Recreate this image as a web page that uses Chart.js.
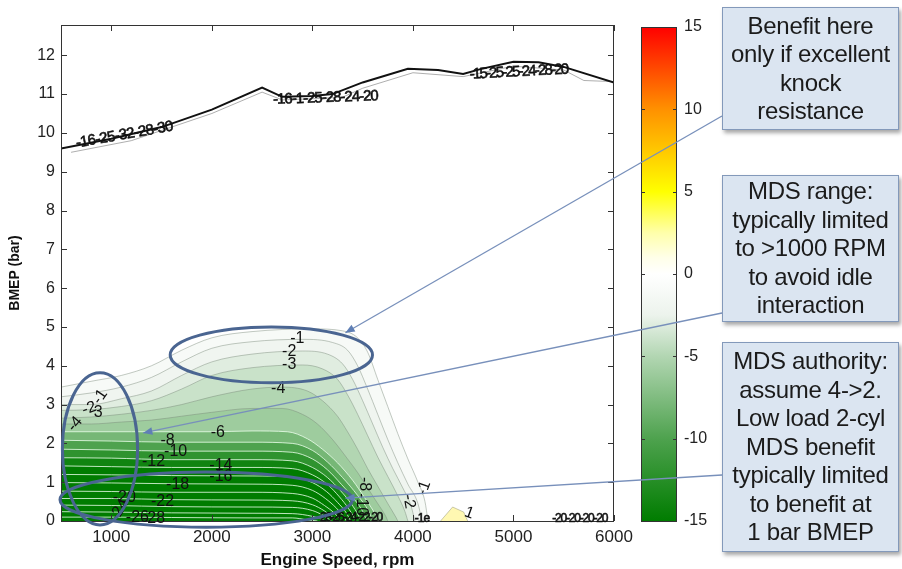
<!DOCTYPE html>
<html>
<head>
<meta charset="utf-8">
<script src="https://cdn.jsdelivr.net/npm/chart.js@4"></script>
<style>
  html, body { margin: 0; padding: 0; background: #fff; overflow: hidden; }
  #wrap { position: relative; width: 902px; height: 569px; font-family: 'Liberation Sans', Arial, sans-serif; }
  #cb { position: absolute; left: 620px; top: 0; z-index: 0; }
  #main { position: absolute; left: 0; top: 0; z-index: 1; }
  .note {
    position: absolute; left: 722px; width: 177px; box-sizing: border-box;
    background: #dbe5f1; border: 1px solid #8399ba;
    box-shadow: 2px 3px 4px rgba(0,0,0,0.35);
    color: #1b1b1b; font-size: 24px; line-height: 28.5px; letter-spacing: -0.3px;
    text-align: center; z-index: 2;
    display: flex; flex-direction: column; justify-content: center;
  }
</style>
</head>
<body>
<div id="wrap">
  <canvas id="cb" width="100" height="569"></canvas>
  <canvas id="main" width="902" height="569"></canvas>
  <div class="note" style="top:7px;height:123px">Benefit here<br>only if excellent<br>knock<br>resistance</div>
  <div class="note" style="top:175px;height:147px">MDS range:<br>typically limited<br>to &gt;1000 RPM<br>to avoid idle<br>interaction</div>
  <div class="note" style="top:342px;height:210px">MDS authority:<br>assume 4-&gt;2.<br>Low load 2-cyl<br>MDS benefit<br>typically limited<br>to benefit at<br>1 bar BMEP</div>
</div>
<script>
const FONT = "'Liberation Sans', Arial, sans-serif";

// axis ticks
const xTicks = [1000, 2000, 3000, 4000, 5000, 6000];
const yTicks = [0, 1, 2, 3, 4, 5, 6, 7, 8, 9, 10, 11, 12];
const cbTicks = [-15, -10, -5, 0, 5, 10, 15];

// contour levels (benefit, %) and their outlines [rpm, bar]
const levels = [0, -1, -2, -3, -4, -5, -6, -8, -10, -12, -14, -16, -18, -20, -22, -24, -26, -28];

const c00 = [[500,3.45],[800,3.6],[1100,3.75],[1400,4.0],[1700,4.4],[2000,4.72],[2400,4.88],[3000,4.95],[3300,4.9],[3450,4.72],[3550,4.35],[3650,3.65],[3750,2.95],[3850,2.25],[3950,1.6],[4050,1.0],[4120,0.5],[4150,0]];
const c01 = [[500,3.2],[800,3.3],[1100,3.45],[1400,3.7],[1700,4.1],[2000,4.45],[2400,4.62],[2900,4.68],[3200,4.6],[3350,4.4],[3450,4.0],[3550,3.4],[3650,2.75],[3750,2.1],[3850,1.5],[3950,0.95],[4050,0.45],[4090,0]];
const c02 = [[500,3.0],[800,3.0],[1100,3.15],[1400,3.35],[1700,3.75],[2000,4.1],[2400,4.3],[2900,4.38],[3150,4.3],[3300,4.05],[3400,3.65],[3500,3.1],[3600,2.5],[3700,1.9],[3800,1.35],[3900,0.85],[3980,0.4],[4020,0]];
const c03 = [[500,2.85],[800,2.87],[1100,2.95],[1400,3.1],[1700,3.4],[2000,3.75],[2400,3.95],[2900,4.02],[3100,3.92],[3250,3.65],[3350,3.25],[3450,2.75],[3550,2.2],[3650,1.65],[3750,1.15],[3850,0.65],[3920,0.25],[3950,0]];
const c04 = [[500,2.65],[800,2.68],[1100,2.75],[1400,2.85],[1700,3.0],[2000,3.2],[2400,3.4],[2700,3.45],[2950,3.35],[3100,3.1],[3250,2.7],[3350,2.3],[3450,1.85],[3550,1.35],[3650,0.9],[3750,0.45],[3830,0.1],[3850,0]];
const c05 = [[500,2.5],[800,2.5],[1100,2.55],[1400,2.6],[1700,2.7],[2000,2.8],[2400,2.9],[2700,2.9],[2900,2.75],[3050,2.5],[3200,2.1],[3350,1.6],[3450,1.25],[3550,0.85],[3650,0.45],[3730,0.12],[3750,0]];
const c06 = [[500,2.3],[800,2.3],[1200,2.3],[1600,2.3],[2000,2.3],[2400,2.32],[2750,2.3],[2950,2.12],[3100,1.85],[3250,1.5],[3400,1.05],[3520,0.6],[3620,0.2],[3660,0]];
const c08 = [[500,2.08],[1000,2.06],[1600,2.03],[2400,2.03],[2800,2.0],[3000,1.82],[3150,1.52],[3300,1.12],[3450,0.66],[3560,0.25],[3600,0]];
const c10 = [[500,1.85],[1000,1.83],[1600,1.8],[2400,1.8],[2800,1.77],[3000,1.6],[3150,1.32],[3290,0.94],[3420,0.55],[3510,0.2],[3540,0]];
const c12 = [[500,1.63],[1000,1.62],[1600,1.58],[2400,1.58],[2800,1.55],[3000,1.38],[3150,1.12],[3280,0.78],[3390,0.43],[3460,0.13],[3480,0]];
const c14 = [[500,1.42],[1000,1.4],[1600,1.38],[2400,1.38],[2800,1.35],[3000,1.19],[3150,0.94],[3270,0.62],[3360,0.32],[3420,0.06],[3430,0]];
const c16 = [[500,1.2],[1000,1.19],[1600,1.17],[2400,1.16],[2800,1.13],[3000,0.99],[3140,0.76],[3250,0.48],[3340,0.2],[3380,0]];
const c18 = [[500,0.99],[1000,0.98],[1600,0.96],[2400,0.95],[2800,0.92],[3000,0.79],[3130,0.58],[3240,0.33],[3310,0.12],[3340,0]];
const c20 = [[500,0.77],[1000,0.76],[1600,0.74],[2400,0.74],[2800,0.71],[3000,0.59],[3120,0.4],[3220,0.2],[3290,0]];
const c22 = [[500,0.58],[1000,0.58],[1600,0.55],[2400,0.54],[2800,0.52],[3000,0.42],[3120,0.26],[3210,0.08],[3240,0]];
const c24 = [[500,0.41],[1000,0.4],[1600,0.37],[2400,0.36],[2800,0.35],[3000,0.27],[3110,0.14],[3190,0]];
const c26 = [[500,0.24],[1000,0.23],[1600,0.21],[2400,0.2],[2800,0.19],[3000,0.12],[3100,0.04],[3130,0]];
const c28 = [[500,0.1],[1000,0.1],[1600,0.09],[2400,0.08],[2800,0.08],[2950,0.03],[3050,0]];
const contourPts = [c00, c01, c02, c03, c04, c05, c06, c08, c10, c12, c14, c16, c18, c20, c22, c24, c26, c28];

// small positive (+1) patch
const posPatch = [[4275,0],[4395,0.36],[4505,0.23],[4545,0]];

// full-load edge of the map
const wotRpm  = [500, 1000, 1500, 2000, 2500, 2700, 3000, 3200, 3500, 3950, 4250, 4500, 4680, 5000, 5250, 5500, 6000];
const wotBmep = [9.6, 9.85, 10.15, 10.6, 11.17, 10.93, 10.95, 11.0, 11.3, 11.65, 11.62, 11.52, 11.65, 11.83, 11.82, 11.7, 11.3];
const wot2Rpm  = [600, 1200, 2000, 2500, 2700, 3000, 3300, 3500, 4000, 4500, 5000, 5500, 5700, 6000];
const wot2Bmep = [9.5, 9.8, 10.5, 11.05, 10.85, 10.88, 10.92, 11.15, 11.55, 11.45, 11.72, 11.62, 11.35, 11.32];

// contour labels [text, rpm, bar, rotation deg]
const contourLabels = [
  ['-1', 2850, 4.7, 0], ['-2', 2770, 4.36, 0], ['-3', 2770, 4.02, 0], ['-4', 2660, 3.42, 0],
  ['-6', 2060, 2.27, 0], ['-8', 1560, 2.08, 0], ['-10', 1640, 1.8, 0], ['-12', 1420, 1.52, 0],
  ['-14', 2090, 1.42, 0], ['-16', 2090, 1.15, 0], ['-18', 1660, 0.93, 0], ['-20', 1130, 0.6, 0],
  ['-22', 1510, 0.49, 0], ['-24', 1080, 0.28, -60], ['-26', 1260, 0.09, 0], ['-28', 1420, 0.05, 0],
  ['-1', 890, 3.2, -55], ['-2', 780, 2.9, -20], ['3', 870, 2.8, 0], ['-4', 640, 2.5, -50],
  ['-8', 3520, 0.95, 90], ['-10', 3490, 0.42, 90], ['-2', 3960, 0.5, 80], ['-1', 4110, 0.85, -70],
  ['1', 4560, 0.2, 20]
];
const clusterLabels = [
  ['-16-25-32-28-30', 1130, 9.95, -10, 15, -0.7],
  ['-16-1-25-28-24-20', 3130, 10.9, -2, 15, -1],
  ['-15-25-25-24-28-20', 5050, 11.57, -3, 15, -1.8],
  ['-28-26-24-22-20', 3370, 0.08, 0, 12, -1.5],
  ['-1e', 4090, 0.07, 0, 12, -1],
  ['-20-20-20-20', 5660, 0.07, 0, 12, -1.2]
];

// call-out ellipses (centre rpm, bar; radius rpm, bar)
const ellipses = [[2592, 4.28, 1006, 0.72], [888, 1.86, 374, 1.96], [1944, 0.55, 1454, 0.71]];
// call-out leaders: box anchor (px) -> tip (rpm, bar)
const leaders = [[722, 116, 3329, 4.85], [722, 313, 1317, 2.27], [722, 475, 3329, 0.59]];

// colour map (green-white-yellow-red)
const cmapStops = [
  [-15, [0,124,0]], [-10, [78,162,78]], [-5, [178,214,178]], [-2.5, [236,243,236]], [0, [255,255,255]],
  [1, [255,255,232]], [2.5, [255,255,170]], [5, [255,255,0]], [10, [255,145,0]], [15, [255,0,0]]
];
function cmap(v) {
  if (v <= cmapStops[0][0]) return 'rgb(' + cmapStops[0][1].join(',') + ')';
  for (let i = 0; i < cmapStops.length - 1; i++) {
    const [v0, c0] = cmapStops[i], [v1, c1] = cmapStops[i + 1];
    if (v <= v1) {
      const t = (v - v0) / (v1 - v0);
      return 'rgb(' + c0.map((c, k) => Math.round(c + (c1[k] - c) * t)).join(',') + ')';
    }
  }
  return 'rgb(255,0,0)';
}

const datasets = contourPts.map((pts, i) => {
  const below = i + 1 < levels.length ? levels[i + 1] : -15;
  return {
    data: pts.map(p => ({ x: p[0], y: p[1] })),
    fill: 'origin',
    backgroundColor: cmap(Math.max(-15, below)),
    borderColor: levels[i] > -6 ? 'rgba(120,135,120,0.45)' : 'rgba(235,255,235,0.8)',
    borderWidth: 1,
    cubicInterpolationMode: 'monotone',
    order: 100 - i
  };
});
datasets.push({
  data: posPatch.map(p => ({ x: p[0], y: p[1] })),
  fill: 'origin', backgroundColor: 'rgb(255,248,178)', borderColor: 'rgba(150,150,120,0.5)',
  borderWidth: 1, order: 50
});
datasets.push({
  data: wot2Rpm.map((r, i) => ({ x: r, y: wot2Bmep[i] })),
  fill: false, borderColor: 'rgba(120,120,120,0.6)', borderWidth: 1, order: 2
});
datasets.push({
  data: wotRpm.map((r, i) => ({ x: r, y: wotBmep[i] })),
  fill: false, borderColor: '#111', borderWidth: 2, order: 1
});

const decor = {
  id: 'decor',
  afterDraw(chart) {
    const { ctx, chartArea: a, scales: { x, y } } = chart;
    ctx.save();
    // frame and inward ticks
    ctx.strokeStyle = '#333';
    ctx.lineWidth = 1;
    ctx.strokeRect(a.left + 0.5, a.top + 0.5, a.right - a.left - 1, a.bottom - a.top);
    ctx.beginPath();
    xTicks.forEach(v => {
      const px = Math.round(x.getPixelForValue(v)) + 0.5;
      ctx.moveTo(px, a.bottom); ctx.lineTo(px, a.bottom - 6);
      ctx.moveTo(px, a.top); ctx.lineTo(px, a.top + 6);
    });
    yTicks.forEach(v => {
      const py = Math.round(y.getPixelForValue(v)) + 0.5;
      ctx.moveTo(a.left, py); ctx.lineTo(a.left + 6, py);
      ctx.moveTo(a.right, py); ctx.lineTo(a.right - 6, py);
    });
    ctx.stroke();

    // contour labels
    ctx.fillStyle = '#111';
    ctx.textAlign = 'center';
    ctx.textBaseline = 'middle';
    ctx.font = '16px ' + FONT;
    contourLabels.forEach(([t, r, b, rot]) => {
      ctx.save();
      ctx.translate(x.getPixelForValue(r), y.getPixelForValue(b));
      ctx.rotate(rot * Math.PI / 180);
      ctx.fillText(t, 0, 0);
      ctx.restore();
    });
    clusterLabels.forEach(([t, r, b, rot, size, sp]) => {
      ctx.save();
      ctx.font = size + 'px ' + FONT;
      ctx.letterSpacing = sp + 'px';
      ctx.strokeStyle = '#111';
      ctx.lineWidth = 0.6;
      ctx.translate(x.getPixelForValue(r), y.getPixelForValue(b));
      ctx.rotate(rot * Math.PI / 180);
      ctx.fillText(t, 0, 0);
      ctx.strokeText(t, 0, 0);
      ctx.restore();
    });

    // ellipses
    ctx.strokeStyle = '#4a6591';
    ctx.lineWidth = 3;
    ellipses.forEach(([cr, cb, rr, rb]) => {
      const cx = x.getPixelForValue(cr), cy = y.getPixelForValue(cb);
      const rx = x.getPixelForValue(cr + rr) - cx, ry = cy - y.getPixelForValue(cb + rb);
      ctx.beginPath();
      ctx.ellipse(cx, cy, rx, ry, 0, 0, Math.PI * 2);
      ctx.stroke();
    });

    // leader lines with arrow heads
    ctx.strokeStyle = '#7890bb';
    ctx.fillStyle = '#5f7fb5';
    ctx.lineWidth = 1.3;
    leaders.forEach(([bx, by, r, b]) => {
      const tx = x.getPixelForValue(r), ty = y.getPixelForValue(b);
      ctx.beginPath();
      ctx.moveTo(bx, by); ctx.lineTo(tx, ty);
      ctx.stroke();
      const ang = Math.atan2(ty - by, tx - bx);
      ctx.beginPath();
      ctx.moveTo(tx, ty);
      ctx.lineTo(tx - 10 * Math.cos(ang - 0.4), ty - 10 * Math.sin(ang - 0.4));
      ctx.lineTo(tx - 10 * Math.cos(ang + 0.4), ty - 10 * Math.sin(ang + 0.4));
      ctx.closePath();
      ctx.fill();
    });
    ctx.restore();
  }
};

new Chart(document.getElementById('main'), {
  type: 'line',
  data: { datasets },
  options: {
    responsive: false,
    animation: false,
    layout: { padding: { left: 0, right: 288, top: 25, bottom: 0 } },
    plugins: { legend: { display: false }, tooltip: { enabled: false } },
    elements: { point: { radius: 0 } },
    scales: {
      x: {
        type: 'linear', min: 500, max: 6000,
        afterBuildTicks: s => { s.ticks = xTicks.map(v => ({ value: v })); },
        afterFit: s => { s.height = 48; },
        grid: { display: false, drawTicks: false }, border: { display: false },
        ticks: { font: { family: FONT, size: 17 }, color: '#222', padding: 6, maxRotation: 0,
                 callback: v => String(v) },
        title: { display: true, text: 'Engine Speed, rpm', color: '#111',
                 font: { family: FONT, size: 17, weight: 'bold', lineHeight: 1 }, padding: { top: 0, bottom: 0 } }
      },
      y: {
        type: 'linear', min: 0, max: 12.78,
        afterBuildTicks: s => { s.ticks = yTicks.map(v => ({ value: v })); },
        afterFit: s => { s.width = 61; },
        grid: { display: false, drawTicks: false }, border: { display: false },
        ticks: { font: { family: FONT, size: 16 }, color: '#222', padding: 6, callback: v => String(v) },
        title: { display: true, text: 'BMEP (bar)', color: '#111',
                 font: { family: FONT, size: 14, weight: 'bold', lineHeight: 1 }, padding: { top: 8, bottom: 0 } }
      }
    }
  },
  plugins: [decor]
});

// colour bar
const cbFrame = {
  id: 'cbFrame',
  afterDraw(chart) {
    const { ctx, chartArea: a, scales: { y } } = chart;
    ctx.save();
    ctx.strokeStyle = '#333';
    ctx.lineWidth = 1;
    ctx.strokeRect(a.left + 0.5, a.top + 0.5, a.right - a.left - 1, a.bottom - a.top);
    ctx.beginPath();
    cbTicks.forEach(v => {
      const py = Math.round(y.getPixelForValue(v)) + 0.5;
      ctx.moveTo(a.left, py); ctx.lineTo(a.left + 4, py);
      ctx.moveTo(a.right, py); ctx.lineTo(a.right - 4, py);
    });
    ctx.stroke();
    ctx.restore();
  }
};

new Chart(document.getElementById('cb'), {
  type: 'bar',
  data: {
    labels: [''],
    datasets: [{
      data: [[cbTicks[0], cbTicks[cbTicks.length - 1]]],
      barPercentage: 1, categoryPercentage: 1, borderWidth: 0,
      backgroundColor: c => {
        const a = c.chart.chartArea;
        if (!a) return 'white';
        const g = c.chart.ctx.createLinearGradient(0, a.bottom, 0, a.top);
        cmapStops.forEach(([v, col]) => g.addColorStop((v + 15) / 30, 'rgb(' + col.join(',') + ')'));
        return g;
      }
    }]
  },
  options: {
    responsive: false,
    animation: false,
    layout: { padding: { left: 21, right: 0, top: 27, bottom: 48 } },
    plugins: { legend: { display: false }, tooltip: { enabled: false } },
    scales: {
      x: { display: false },
      y: {
        position: 'right', min: -15, max: 15,
        afterBuildTicks: s => { s.ticks = cbTicks.map(v => ({ value: v })); },
        afterFit: s => { s.width = 43; },
        grid: { display: false, drawTicks: false }, border: { display: false },
        ticks: { font: { family: FONT, size: 16 }, color: '#222', padding: 7 }
      }
    }
  },
  plugins: [cbFrame]
});
</script>
</body>
</html>
